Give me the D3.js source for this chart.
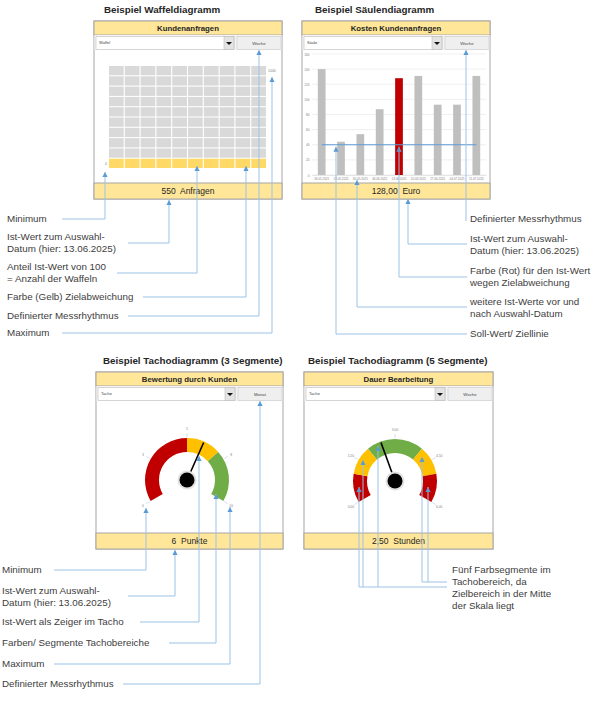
<!DOCTYPE html>
<html><head><meta charset="utf-8">
<script src="https://cdn.jsdelivr.net/npm/d3@7"></script>
<style>body{margin:0;background:#fff}svg{display:block;font-family:"Liberation Sans",Arial,sans-serif}</style>
</head><body><svg id="c" width="600" height="701"></svg>
<script>
// ---------- data ----------
const waffleRows = 10, waffleCols = 10;
const waffleFilled = 10;
const waffleMinLabel = "0", waffleMaxLabel = "1000";
const waffleValue = "550", waffleUnit = "Anfragen";

const barDates = ["16.05.2025","23.05.2025","30.05.2025","06.06.2025","13.06.2025","20.06.2025","27.06.2025","04.07.2025","11.07.2025"];
const barValues = [140,44,54,87,128,131,93,93,131];
const barSelected = "13.06.2025";
const barTarget = 40;
const barTicks = [0,20,40,60,80,100,120,140,160];
const barValueText = "128,00", barUnit = "Euro";

const gauge3Bounds = [0,5,7,10];
const gauge3Ticks = [0,2.5,5,7.5,10];
const gauge3TickLabels = ["0","3","5","8","10"];
const gauge3Value = 6;

const gauge5Bounds = [0,1,2,4,5,6];
const gauge5Ticks = [0,1.5,3,4.5,6];
const gauge5TickLabels = ["0,00","1,50","3,00","4,50","6,00"];
const gauge5Value = 2.5;

// ---------- styles ----------
const RED = "#C00000", YEL = "#FFC000", GRN = "#70AD47";
const gauge3Colors = [RED, YEL, GRN];
const gauge5Colors = [RED, YEL, GRN, YEL, RED];
const LINE = "#9DC3E6", ARROW = "#5B9BD5", TXT = "#404040";
const ANN_FS = 9.8;

const svg = d3.select("#c");
svg.append("rect").attr("width",600).attr("height",701).attr("fill","#fff");
const gPanels = svg.append("g");
const gAnn = svg.append("g");

function panel(x, y, w, h, o) {
  const g = gPanels.append("g");
  g.append("text").attr("x", o.tx).attr("y", y - 11).attr("dy","0.35em")
    .attr("font-size", 9.8).attr("font-weight","bold").attr("fill","#262626").text(o.title);
  g.append("rect").attr("x",x).attr("y",y).attr("width",w).attr("height",h)
    .attr("fill","#fff").attr("stroke","#A6A6A6");
  // header
  g.append("rect").attr("x",x).attr("y",y).attr("width",w).attr("height",14)
    .attr("fill","#FFE699").attr("stroke","#A6A6A6");
  g.append("text").attr("x",x+w/2).attr("y",y+7).attr("dy","0.35em").attr("text-anchor","middle")
    .attr("font-size",7.8).attr("font-weight","bold").attr("fill","#262626").text(o.header);
  // dropdown row
  g.append("rect").attr("x",x+0.5).attr("y",y+14).attr("width",w-1).attr("height",15).attr("fill","#F4F4F4");
  g.append("rect").attr("x",x+2).attr("y",y+15.5).attr("width",w-50).attr("height",13)
    .attr("fill","#fff").attr("stroke","#BDBDBD").attr("stroke-width",0.6);
  g.append("rect").attr("x",x+w-58).attr("y",y+15.5).attr("width",10).attr("height",13)
    .attr("fill","#E3E3E3").attr("stroke","#BDBDBD").attr("stroke-width",0.6);
  const ax = x+w-53, ay = y+21;
  g.append("path").attr("d",`M${ax-3},${ay}L${ax+3},${ay}L${ax},${ay+3}Z`).attr("fill","#111");
  g.append("text").attr("x",x+5).attr("y",y+22).attr("dy","0.35em").attr("font-size",4).attr("fill","#444").text(o.dropdown);
  g.append("rect").attr("x",x+w-45).attr("y",y+15.5).attr("width",44).attr("height",13)
    .attr("fill","#EFEFEF").attr("stroke","#C8C8C8").attr("stroke-width",0.6);
  g.append("text").attr("x",x+w-23).attr("y",y+22).attr("dy","0.35em").attr("text-anchor","middle")
    .attr("font-size",4.3).attr("fill","#444").text(o.button);
  // footer
  g.append("rect").attr("x",x).attr("y",y+h-16).attr("width",w).attr("height",16)
    .attr("fill","#FFE699").attr("stroke","#A6A6A6");
  g.append("text").attr("x",x+w/2).attr("y",y+h-8).attr("dy","0.35em").attr("text-anchor","middle")
    .attr("font-size",8.5).attr("fill","#262626").style("white-space","pre").text(o.footer);
  return g;
}

// ---------- Panel 1: Waffle ----------
const p1 = panel(94, 21, 188, 178, {tx:104, title:"Beispiel Waffeldiagramm", header:"Kundenanfragen",
  dropdown:"Waffel", button:"Woche", footer: waffleValue + "  " + waffleUnit});
const wx = d3.scaleBand().domain(d3.range(waffleCols)).range([109,266]).paddingInner(0.07);
const wy = d3.scaleBand().domain(d3.range(waffleRows)).range([66,168]).paddingInner(0.1);
const cells = d3.range(waffleRows*waffleCols).map(i => ({i, col: i % waffleCols, row: waffleRows - 1 - Math.floor(i / waffleCols)}));
p1.selectAll("rect.w").data(cells).join("rect").attr("class","w")
  .attr("x", d => wx(d.col)).attr("y", d => wy(d.row))
  .attr("width", wx.bandwidth()).attr("height", wy.bandwidth())
  .attr("fill", d => d.i < waffleFilled ? "#FFD966" : "#D9D9D9");
p1.append("text").attr("x",107).attr("y",wy(waffleRows-1)+wy.bandwidth()/2).attr("dy","0.35em").attr("text-anchor","end")
  .attr("font-size",3.5).attr("fill","#7F7F7F").text(waffleMinLabel);
p1.append("text").attr("x",268).attr("y",wy(0)+5).attr("dy","0.35em")
  .attr("font-size",3.5).attr("fill","#7F7F7F").text(waffleMaxLabel);

// ---------- Panel 2: Bars ----------
const p2 = panel(302, 21, 188, 178, {tx:315, title:"Beispiel Säulendiagramm", header:"Kosten Kundenanfragen",
  dropdown:"Säule", button:"Woche", footer: barValueText + "  " + barUnit});
const bx = d3.scaleBand().domain(barDates).range([312,486]).paddingInner(0.6).paddingOuter(0.3);
const by = d3.scaleLinear().domain([0,160]).range([175,54]);
p2.append("g").selectAll("line").data(barTicks).join("line")
  .attr("x1",312).attr("x2",486).attr("y1",d=>by(d)).attr("y2",d=>by(d))
  .attr("stroke","#E6E6E6").attr("stroke-width",0.6);
const yAx = p2.append("g").attr("transform","translate(311,0)")
  .call(d3.axisLeft(by).tickValues(barTicks).tickSize(0).tickPadding(1.5));
yAx.select(".domain").remove();
yAx.selectAll("text").attr("font-size",3.2).attr("fill","#7F7F7F").attr("font-family","Liberation Sans");
const xAx = p2.append("g").attr("transform","translate(0,175)")
  .call(d3.axisBottom(bx).tickSize(0).tickPadding(2.5));
xAx.select(".domain").attr("stroke","#D9D9D9").attr("stroke-width",0.6);
xAx.selectAll("text").attr("font-size",3).attr("fill","#7F7F7F").attr("font-family","Liberation Sans");
p2.selectAll("rect.b").data(barDates.map((d,i)=>({d,v:barValues[i]}))).join("rect").attr("class","b")
  .attr("x",d=>bx(d.d)).attr("width",bx.bandwidth())
  .attr("y",d=>by(d.v)).attr("height",d=>by(0)-by(d.v))
  .attr("fill",d=> d.d === barSelected ? RED : "#BFBFBF");
p2.append("line").attr("x1",bx(barDates[0])+bx.bandwidth()/2).attr("x2",bx(barDates[barDates.length-1])+bx.bandwidth()/2)
  .attr("y1",by(barTarget)).attr("y2",by(barTarget)).attr("stroke","#5B9BD5").attr("stroke-width",1.2);

// ---------- Gauges ----------
function gauge(g, cx, cy, bounds, colors, ticks, tickLabels, value) {
  const ang = d3.scaleLinear().domain([bounds[0], bounds[bounds.length-1]]).range([-2*Math.PI/3, 2*Math.PI/3]);
  const arc = d3.arc().innerRadius(28).outerRadius(42);
  const gg = g.append("g").attr("transform",`translate(${cx},${cy})`);
  const segs = d3.range(colors.length).map(i => ({a: bounds[i], b: bounds[i+1], c: colors[i]}));
  gg.selectAll("path.s").data(segs).join("path").attr("class","s")
    .attr("d", d => arc({startAngle: ang(d.a), endAngle: ang(d.b)})).attr("fill", d => d.c);
  gg.selectAll("line.t").data(ticks).join("line").attr("class","t")
    .attr("x1", d => 43*Math.sin(ang(d))).attr("y1", d => -43*Math.cos(ang(d)))
    .attr("x2", d => 47*Math.sin(ang(d))).attr("y2", d => -47*Math.cos(ang(d)))
    .attr("stroke","#B4C7E7").attr("stroke-width",0.6);
  gg.selectAll("text.t").data(ticks).join("text").attr("class","t")
    .attr("x", d => 51*Math.sin(ang(d))).attr("y", d => -51*Math.cos(ang(d))).attr("dy","0.35em")
    .attr("text-anchor","middle").attr("font-size",3.3).attr("fill","#7F7F7F")
    .text((d,i) => tickLabels[i]);
  const a = ang(value);
  gg.append("line").attr("x1",0).attr("y1",0).attr("x2",41*Math.sin(a)).attr("y2",-41*Math.cos(a))
    .attr("stroke","#000").attr("stroke-width",1.6);
  gg.append("circle").attr("r",9.5).attr("fill","#E2E2E2");
  gg.append("circle").attr("r",7.5).attr("fill","#000");
  return ang;
}

const p3 = panel(96, 372, 187, 177, {tx:103, title:"Beispiel Tachodiagramm (3 Segmente)", header:"Bewertung durch Kunden",
  dropdown:"Tacho", button:"Monat", footer: gauge3Value + "  Punkte"});
gauge(p3, 187, 480, gauge3Bounds, gauge3Colors, gauge3Ticks, gauge3TickLabels, gauge3Value);

const p4 = panel(304, 372, 189, 177, {tx:308, title:"Beispiel Tachodiagramm (5 Segmente)", header:"Dauer Bearbeitung",
  dropdown:"Tacho", button:"Woche", footer: d3.format(".2f")(gauge5Value).replace(".",",") + "  Stunden"});
gauge(p4, 395, 481, gauge5Bounds, gauge5Colors, gauge5Ticks, gauge5TickLabels, gauge5Value);

// ---------- Annotations ----------
function arrowPath(pts, arrow=true) {
  gAnn.append("path").attr("d", d3.line()(pts)).attr("fill","none").attr("stroke",LINE).attr("stroke-width",1);
  if (arrow) {
    const [x,y] = pts[0];
    gAnn.append("path").attr("d",`M${x},${y}L${x-2.6},${y+5}L${x+2.6},${y+5}Z`).attr("fill",ARROW);
  }
}
function label(x, y, lines, gap=12) {
  const t = gAnn.append("text").attr("font-size",ANN_FS).attr("fill",TXT);
  lines.forEach((l,i) => t.append("tspan").attr("x",x).attr("y",y+i*gap).attr("dy","0.35em").text(l));
}

// top-left
label(7,219,["Minimum"]);                         arrowPath([[105,172],[105,219],[62,219]]);
label(7,237,["Ist-Wert zum Auswahl-","Datum (hier: 13.06.2025)"]); arrowPath([[169,200],[169,243],[128,243]]);
label(7,267,["Anteil Ist-Wert von 100","= Anzahl der Waffeln"]);    arrowPath([[197,166],[197,273],[117,273]]);
label(7,297,["Farbe (Gelb) Zielabweichung"]);     arrowPath([[246,166],[246,297],[143,297]]);
label(7,316,["Definierter Messrhythmus"]);        arrowPath([[259,50],[259,316],[128,316]]);
label(7,333,["Maximum"]);                         arrowPath([[272,77],[272,333],[62,333]]);

// top-right
const selX = bx(barSelected) + bx.bandwidth()/2;
label(470,219,["Definierter Messrhythmus"]);      arrowPath([[466,50],[466,221]]);
label(470,239,["Ist-Wert zum Auswahl-","Datum (hier: 13.06.2025)"]); arrowPath([[408,199],[408,244],[467,244]]);
label(470,271,["Farbe (Rot) für den Ist-Wert","wegen Zielabweichung"]); arrowPath([[selX,by(barTarget)+2],[selX,277],[467,277]]);
label(470,302,["weitere Ist-Werte vor und","nach Auswahl-Datum"]); arrowPath([[357,180],[357,307],[467,307]]);
label(470,334,["Soll-Wert/ Ziellinie"]);          arrowPath([[336,by(barTarget)+2],[336,334],[467,334]]);

// bottom-left
label(2,570,["Minimum"]);                         arrowPath([[146,508],[146,570],[54,570]]);
label(2,591,["Ist-Wert zum Auswahl-","Datum (hier: 13.06.2025)"]); arrowPath([[175,550],[175,596],[128,596]]);
label(2,622,["Ist-Wert als Zeiger im Tacho"]);    arrowPath([[199,456],[199,622],[140,622]]);
label(2,643,["Farben/ Segmente Tachobereiche"]);  arrowPath([[216,494],[216,643],[169,643]]);
label(2,664,["Maximum"]);                         arrowPath([[230,507],[230,664],[54,664]]);
label(2,684,["Definierter Messrhythmus"]);        arrowPath([[260,401],[260,684],[123,684]]);

// bottom-right
label(452,570,["Fünf Farbsegmente im","Tachobereich, da","Zielbereich in der Mitte","der Skala liegt"], 11.8);
arrowPath([[359,487],[359,587],[447,587]]);
arrowPath([[363,460],[363,587]]);
arrowPath([[378,446],[378,587]]);
arrowPath([[422,457],[422,582],[447,582]]);
arrowPath([[428,487],[428,582]]);
</script></body></html>
